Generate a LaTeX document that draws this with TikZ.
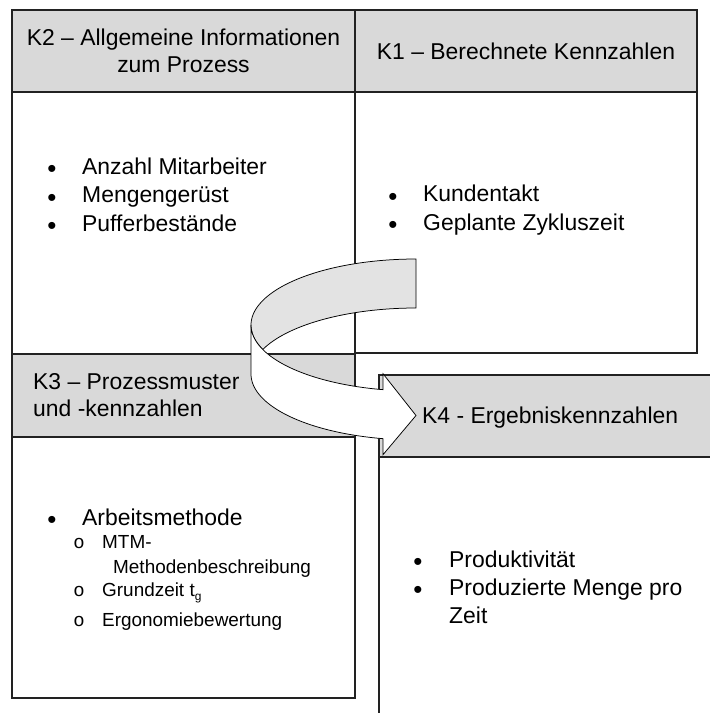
\documentclass[tikz,border=0pt]{standalone}
\usepackage{fontspec}
\setmainfont{Liberation Sans}
\newfontfamily\monofnt{Liberation Mono}
\definecolor{hdr}{HTML}{D9D9D9}
\definecolor{backgray}{HTML}{E3E3E3}
\definecolor{edge}{HTML}{222222}
\tikzset{
  boxline/.style={draw=edge, line width=1.1bp},
  arrowline/.style={draw=black, line width=0.75bp, line join=miter},
  bigtxt/.style={font=\fontsize{23}{27}\selectfont, inner sep=0pt, anchor=base west},
  bigctr/.style={font=\fontsize{23}{27}\selectfont, inner sep=0pt, anchor=base},
  smalltxt/.style={font=\fontsize{19}{22}\selectfont, inner sep=0pt, anchor=base west},
  bulletmk/.style={font=\fontsize{26}{27}\selectfont, inner sep=0pt, anchor=base, yshift=-3.5bp},
  subbullet/.style={font=\monofnt\fontsize{19}{22}\selectfont, inner sep=0pt, anchor=base},
}
\begin{document}
\begin{tikzpicture}[x=1bp, y=-1bp]
\useasboundingbox (0,0) rectangle (710,713);
\clip (0,0) rectangle (710,713);
% header fills
\fill[hdr] (12,10) rectangle (355,92);
\fill[hdr] (355,10) rectangle (697,92);
\fill[hdr] (12,354) rectangle (355,437);
\fill[hdr] (379,375) rectangle (712,457);
% K2 and K1 boxes
\draw[boxline] (12,10) rectangle (355,354);
\draw[boxline] (355,10) rectangle (697,353);
\draw[boxline] (12,92) -- (697,92);
% K3 box
\draw[boxline] (12,354) rectangle (355,698);
\draw[boxline] (12,437) -- (355,437);
% K4 box (continues beyond the picture)
\draw[boxline] (712,375) -- (379,375) -- (379,716);
\draw[boxline] (379,457) -- (712,457);
% K2 header
\node[bigctr] (k2a) at (183.5,45.7) {K2 – Allgemeine Informationen};
\node[bigctr] (k2b) at (183.5,72.7) {zum Prozess};
% K1 header
\node[bigctr] (k1h) at (526,60) {K1 – Berechnete Kennzahlen};
% K2 list
\node[bulletmk] (k2m1) at (52,174) {•};
\node[bigtxt] (k2t1) at (82,174) {Anzahl Mitarbeiter};
\node[bulletmk] (k2m2) at (52,202.5) {•};
\node[bigtxt] (k2t2) at (82,202.5) {Mengengerüst};
\node[bulletmk] (k2m3) at (52,231) {•};
\node[bigtxt] (k2t3) at (82,231) {Pufferbestände};
% K1 list
\node[bulletmk] (k1m1) at (393,201.7) {•};
\node[bigtxt] (k1t1) at (423,201.7) {Kundentakt};
\node[bulletmk] (k1m2) at (393,230) {•};
\node[bigtxt] (k1t2) at (423,230) {Geplante Zykluszeit};
% K3 header
\node[bigtxt] (k3a) at (33,389) {K3 – Prozessmuster};
\node[bigtxt] (k3b) at (33,416) {und -kennzahlen};
% K4 header
\node[bigtxt] (k4h) at (422,423) {K4 - Ergebniskennzahlen};
% K3 list
\node[bulletmk] (k3m1) at (52,525) {•};
\node[bigtxt] (k3t1) at (82,525) {Arbeitsmethode};
\node[subbullet] (k3s1) at (79,548) {o};
\node[smalltxt] (k3u1) at (102,548) {MTM-};
\node[smalltxt] (k3u1b) at (113,573) {Methodenbeschreibung};
\node[subbullet] (k3s2) at (79,596) {o};
\node[smalltxt] (k3u2) at (102,596) {Grundzeit t\raisebox{-0.22em}{\fontsize{12}{12}\selectfont g}};
\node[subbullet] (k3s3) at (79,626) {o};
\node[smalltxt] (k3u3) at (102,626) {Ergonomiebewertung};
% K4 list
\node[bulletmk] (k4m1) at (418,567) {•};
\node[bigtxt] (k4t1) at (449,567) {Produktivität};
\node[bulletmk] (k4m2) at (418,595) {•};
\node[bigtxt] (k4t2) at (449,595) {Produzierte Menge pro};
\node[bigtxt] (k4t3) at (449,623) {Zeit};
% curved arrow: back part
\filldraw[arrowline, fill=backgray]
  plot[domain=180:270, samples=50] ({416+165*cos(\x)},{325+66*sin(\x)})
  -- (416,308)
  -- plot[domain=270:201.79, samples=50] ({416+165*cos(\x)},{374+66*sin(\x)})
  -- plot[domain=158.21:180, samples=20] ({416+165*cos(\x)},{325+66*sin(\x)})
  -- cycle;
% curved arrow: front part
\filldraw[arrowline, fill=white]
  plot[domain=180:101.54, samples=60] ({416+165*cos(\x)},{325+66*sin(\x)})
  -- (383,373.7) -- (416,415.5) -- (383,454.7) -- (383,438.7)
  -- plot[domain=101.54:180, samples=60] ({416+165*cos(\x)},{374+66*sin(\x)})
  -- cycle;
\end{tikzpicture}
\end{document}
